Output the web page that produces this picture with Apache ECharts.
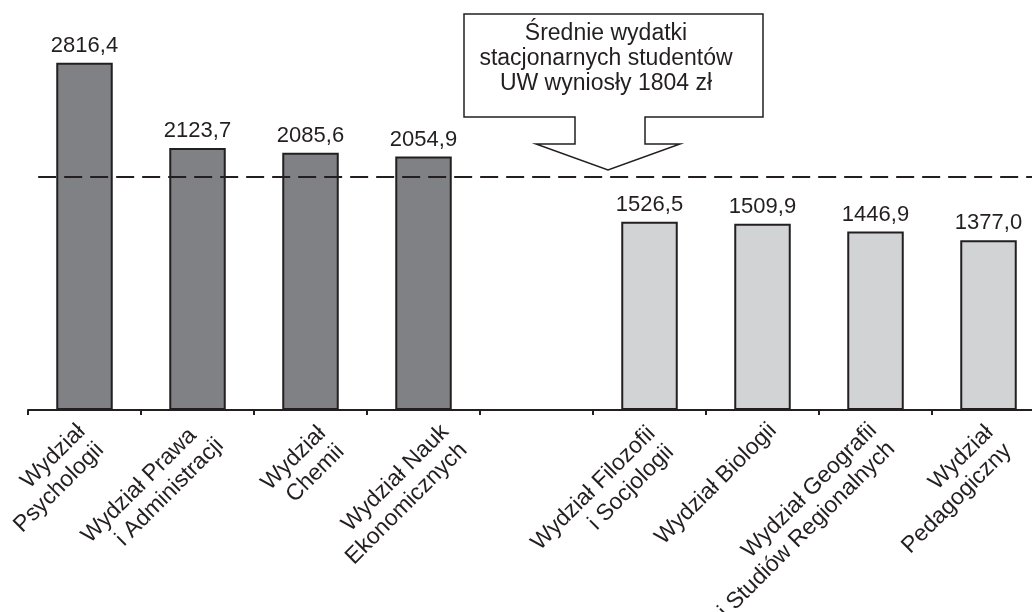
<!DOCTYPE html>
<html><head><meta charset="utf-8">
<script src="https://cdn.jsdelivr.net/npm/echarts@6/dist/echarts.min.js"></script>
<style>html,body{margin:0;padding:0;background:#fff}#c{width:1032px;height:612px}</style>
</head><body><div id="c"></div>
<script>
// ---- data ----
const categories = [
  'Wydział\nPsychologii',
  'Wydział Prawa\ni Administracji',
  'Wydział\nChemii',
  'Wydział Nauk\nEkonomicznych',
  '',
  'Wydział Filozofii\ni Socjologii',
  'Wydział Biologii',
  'Wydział Geografii\ni Studiów Regionalnych',
  'Wydział\nPedagogiczny'
];
const aboveAverage = [2816.4, 2123.7, 2085.6, 2054.9, null, null, null, null, null];
const belowAverage = [null, null, null, null, null, 1526.5, 1509.9, 1446.9, 1377.0];
const averageLineLevel = 1889; // height at which the dashed line is drawn in the picture
const calloutLines = ['Średnie wydatki', 'stacjonarnych studentów', 'UW wyniosły 1804 zł'];

// ---- layout / style (not data) ----
const FONT = '"Liberation Sans", Arial, Helvetica, sans-serif';
const INK = '#231f20';
// per-label nudges in the rotated text frame: [down shift (px of spacer), back shift of line 1, back shift of line 2]
const labelNudge = [[56,19,19],[59,23,11],[79,10,10],[91,2,2],[0,0,0],[66,17,17],[47,9,9],[55,18,18],[63,17,17]];

const rich = {t: {fontFamily: FONT, fontSize: 23, lineHeight: 26, color: INK}};
labelNudge.forEach((n, i) => {
  rich['v' + i] = {height: Math.max(n[0], 1), lineHeight: Math.max(n[0], 1)};
  rich['a' + i] = {width: Math.max(n[1], 0.1), lineHeight: 26};
  rich['b' + i] = {width: Math.max(n[2], 0.1), lineHeight: 26};
});
function axisLabelText(value, index) {
  if (!value) return '';
  const lines = value.split('\n');
  return '{v' + index + '|}\n' +
    lines.map((l, k) => '{t|' + l + '}{' + (k === 0 ? 'a' : 'b') + index + '|}').join('\n');
}

const chart = echarts.init(document.getElementById('c'), null, {renderer: 'canvas'});
const valueLabel = {
  show: true, position: 'top', distance: 6,
  fontFamily: FONT, fontSize: 22, color: INK,
  formatter: p => p.value == null ? '' : Number(p.value).toFixed(1).replace('.', ',')
};
chart.setOption({
  animation: false,
  backgroundColor: '#fff',
  grid: {left: 28, width: 1017, top: 40, bottom: 202, containLabel: false, outerBoundsMode: 'none'},
  xAxis: [{
    type: 'category',
    data: categories,
    boundaryGap: true,
    axisLine: {lineStyle: {color: INK, width: 2}},
    axisTick: {show: true, inside: false, length: 5, lineStyle: {color: INK, width: 2}},
    axisLabel: {interval: 0, rotate: 45, margin: -6, formatter: axisLabelText, rich: rich,
                fontFamily: FONT, fontSize: 23, lineHeight: 26, color: INK}
  }, {
    type: 'value', min: 0, max: 1, show: false
  }],
  yAxis: {type: 'value', min: 0, max: 3000, show: false, splitLine: {show: false}},
  series: [{
    type: 'bar', data: aboveAverage, barWidth: '50%', barGap: '-100%',
    itemStyle: {color: '#808184', borderColor: INK, borderWidth: 2},
    label: valueLabel
  }, {
    type: 'bar', data: belowAverage, barWidth: '50%', barGap: '-100%',
    itemStyle: {color: '#d1d3d4', borderColor: INK, borderWidth: 2},
    label: valueLabel
  }, {
    type: 'line', xAxisIndex: 1, symbol: 'none', silent: true, z: 5,
    data: [[0.01, averageLineLevel], [1, averageLineLevel]],
    lineStyle: {color: INK, width: 2, type: [18, 8]}
  }],
  graphic: [{
    type: 'polygon',
    shape: {points: [[464,14],[763,14],[763,117],[645,117],[645,144],[680,144],[608,170],[536,144],[575,144],[575,117],[464,117]]},
    style: {fill: '#fff', stroke: INK, lineWidth: 1.5}
  }, {
    type: 'text', x: 606, y: 59,
    style: {text: calloutLines.join('\n'), align: 'center', verticalAlign: 'middle',
            fontFamily: FONT, fontSize: 23, lineHeight: 25, fill: INK}
  }]
});
</script></body></html>
